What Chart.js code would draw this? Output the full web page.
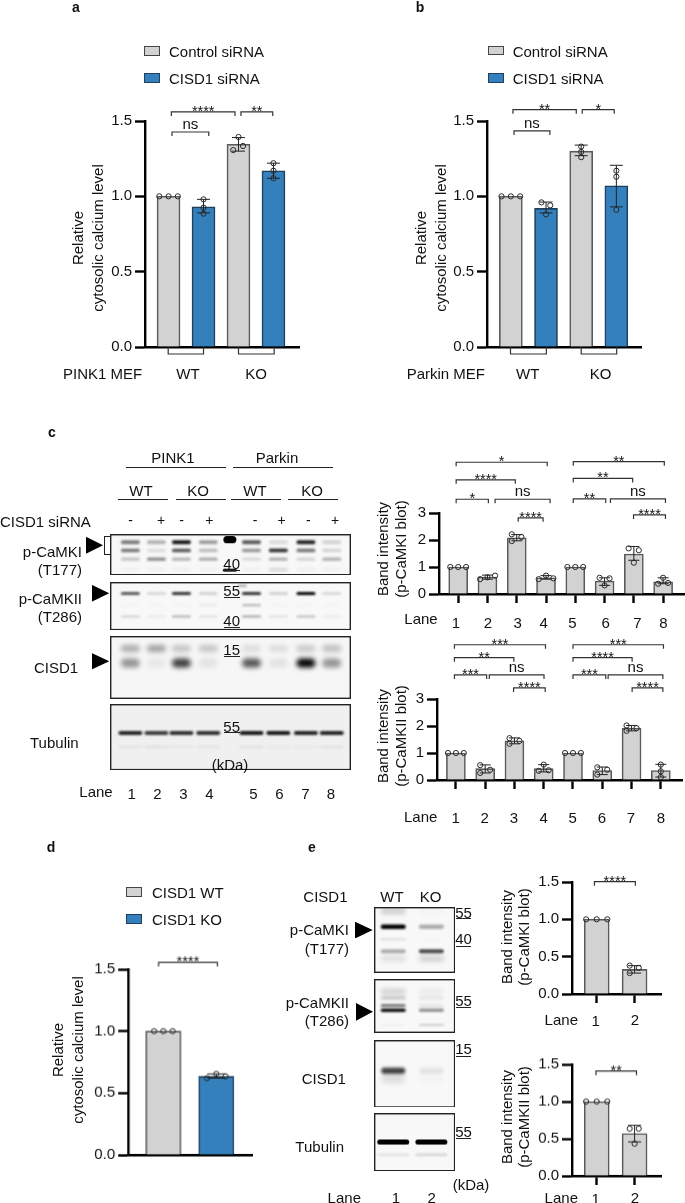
<!DOCTYPE html>
<html>
<head>
<meta charset="utf-8">
<title>CISD1 figure</title>
<script src="https://cdn.jsdelivr.net/npm/chart.js@4"></script>
<style>
  html, body { margin: 0; background: #fff; }
  #page { position: relative; width: 685px; height: 1203px; overflow: hidden; font-family: "Liberation Sans", Arial, sans-serif; color: #111; filter: blur(0.3px); }
  #page canvas { position: absolute; }
  .txt { position: absolute; white-space: nowrap; line-height: 1; }
  .box { position: absolute; box-sizing: border-box; border: 1.5px solid #333; }
  .rule { position: absolute; background: #222; }
  .tri { position: absolute; background: #000; clip-path: polygon(0 0, 100% 50%, 0 100%); }
</style>
</head>
<body>
<div id="page"></div>
<script>
const GREY = '#d2d2d2';
const BLUE = '#3480bd';
const pairFill = [GREY, BLUE, GREY, BLUE];
const pairEdge = ['#5a5a5a', '#1f3f5c', '#5a5a5a', '#1f3f5c'];
const twoFill = [GREY, BLUE];
const twoEdge = ['#5a5a5a', '#1f3f5c'];
const greyFill = Array(8).fill(GREY);
const greyEdge = Array(8).fill('#5a5a5a');

// panel a
const aLanes = [1, 2, 3, 4];
const aMeans = [1, 0.93, 1.345, 1.17];
const aErrLow = [null, 0.89, 1.30, 1.12];
const aErrHigh = [null, 0.98, 1.39, 1.22];
const aPoints = [[0.735, 1], [1, 1], [1.265, 1], [2, 0.98], [2, 0.925], [2, 0.885],
  [3, 1.394], [2.85, 1.307], [3.13, 1.334], [4, 1.22], [4, 1.17], [4, 1.12]];
const aBrackets = [[1.08, 2.9, 1.56, '****'], [3.07, 3.98, 1.56, '**'], [1.1, 2.15, 1.427, 'ns']];
const aGroups = [[0.99, 2.0], [3.0, 4.02]];

// panel b
const bLanes = [1, 2, 3, 4];
const bMeans = [1, 0.92, 1.30, 1.07];
const bErrLow = [null, 0.89, 1.27, 0.93];
const bErrHigh = [null, 0.962, 1.34, 1.206];
const bPoints = [[0.735, 1], [1, 1], [1.265, 1], [1.87, 0.96], [2.12, 0.94], [2, 0.88],
  [3, 1.33], [3, 1.295], [3, 1.26], [4, 1.17], [4, 1.13], [4, 0.91]];
const bBrackets = [[1.06, 2.86, 1.575, '**'], [3.03, 3.94, 1.575, '*'], [1.09, 2.11, 1.434, 'ns']];
const bGroups = [[0.99, 2.01], [3.0, 4.01]];

// panel c charts
const cLanes = [1, 2, 3, 4, 5, 6, 7, 8];
const cTopMeans = [1, 0.63, 2.08, 0.6, 1, 0.48, 1.48, 0.45];
const cTopErrLow = [null, 0.55, 1.97, 0.55, null, 0.32, 1.25, 0.38];
const cTopErrHigh = [null, 0.70, 2.2, 0.68, null, 0.6, 1.76, 0.6];
const cTopPoints = [[0.73, 1], [1, 1], [1.27, 1], [1.75, 0.55], [2, 0.62], [2.26, 0.68],
  [2.83, 2.21], [3.16, 2.11], [2.83, 1.96], [3.75, 0.55], [4, 0.68], [4.25, 0.58],
  [4.73, 1], [5, 1], [5.27, 1], [5.83, 0.6], [6, 0.32], [6.17, 0.58],
  [6.82, 1.69], [7, 1.16], [7.17, 1.62], [8, 0.6], [7.83, 0.38], [8.17, 0.41]];
const cTopBrackets = [[0.93, 4.04, 4.88, '*'], [0.93, 2.95, 4.23, '****'], [0.93, 2.03, 3.51, '*'],
  [2.26, 4.14, 3.51, 'ns'], [3.05, 3.9, 2.82, '****'], [4.93, 8.04, 4.9, '**'],
  [4.93, 6.96, 4.28, '**'], [4.93, 6.04, 3.52, '**'], [6.2, 8.08, 3.52, 'ns'], [6.99, 8.08, 2.93, '****']];

const cLowMeans = [1, 0.42, 1.45, 0.42, 1, 0.35, 1.92, 0.35];
const cLowErrLow = [null, 0.26, 1.34, 0.3, null, 0.2, 1.82, 0.11];
const cLowErrHigh = [null, 0.56, 1.56, 0.57, null, 0.48, 2.02, 0.58];
const cLowPoints = [[0.73, 1], [1, 1], [1.27, 1], [1.83, 0.55], [2.17, 0.38], [1.83, 0.26],
  [2.83, 1.55], [3.17, 1.45], [2.83, 1.34], [4, 0.57], [3.83, 0.34], [4.17, 0.36],
  [4.73, 1], [5, 1], [5.27, 1], [5.83, 0.47], [6.17, 0.38], [5.83, 0.2],
  [6.83, 2.02], [7.17, 1.92], [6.83, 1.82], [8, 0.57], [8, 0.32], [8, 0.11]];
const cLowBrackets = [[0.95, 4.06, 5.01, '***'], [0.95, 2.98, 4.53, '**'], [0.95, 2.05, 3.89, '***'],
  [2.14, 4.01, 3.89, 'ns'], [2.97, 4.05, 3.41, '****'], [5.0, 8.09, 5.01, '***'],
  [5.0, 7.02, 4.53, '****'], [5.0, 6.12, 3.89, '***'], [6.2, 8.07, 3.89, 'ns'], [7.02, 8.07, 3.41, '****']];

// panel d
const dLanes = [1, 2];
const dMeans = [1, 0.635];
const dErrLow = [null, 0.62];
const dErrHigh = [null, 0.655];
const dPoints = [[0.825, 1], [1, 1], [1.175, 1], [1.825, 0.62], [2, 0.655], [2.175, 0.635]];
const dBrackets = [[0.91, 2.02, 1.555, '****']];

// panel e charts
const eLanes = [1, 2];
const eTopMeans = [1, 0.33];
const eTopErrLow = [null, 0.28];
const eTopErrHigh = [null, 0.38];
const eTopPoints = [[0.72, 1], [1, 1], [1.28, 1], [1.87, 0.38], [2.11, 0.35], [1.87, 0.28]];
const eTopBrackets = [[0.94, 2.02, 1.504, '****']];
const eLowMeans = [1, 0.57];
const eLowErrLow = [null, 0.457];
const eLowErrHigh = [null, 0.68];
const eLowPoints = [[0.72, 1], [1, 1], [1.28, 1], [1.87, 0.636], [2.11, 0.636], [2, 0.434]];
const eLowBrackets = [[0.98, 2.05, 1.41, '**']];

// blots: band position (% of blot height) and one darkness value per lane
const cSlots = [1, 2, 2.96, 3.99, 5.65, 6.68, 7.74, 8.73];
const c1Pos = [20, 40, 61, 87];
const c1Levels = [[0.55, 0.3, 1, 0.4, 0.7, 0.12, 0.95, 0.16], [0.6, 0.12, 0.75, 0.28, 0.45, 0.95, 0.6, 0.16],
  [0.22, 0.45, 0.28, 0.32, 0.12, 0.3, 0.14, 0.3], [0.03, 0.04, 0.04, 0.04, 0.04, 0.15, 0.04, 0.04]];
const c2Pos = [24, 48, 72];
const c2Levels = [[0.65, 0.12, 0.8, 0.15, 0.8, 0.15, 1, 0.12], [0.02, 0.02, 0.02, 0.06, 0.25, 0.02, 0.02, 0.02],
  [0.16, 0.07, 0.3, 0.1, 0.35, 0.1, 0.25, 0.06]];
const c3Pos = [20, 43];
const c3Levels = [[0.3, 0.35, 0.2, 0.2, 0.1, 0.1, 0.18, 0.22], [0.4, 0.06, 0.75, 0.08, 0.65, 0.08, 1, 0.4]];
const c4Pos = [44, 65];
const c4Levels = [[0.85, 0.75, 0.8, 0.8, 0.9, 0.9, 0.85, 0.85], [0.07, 0.08, 0.05, 0.06, 0.07, 0.04, 0.04, 0.07]];
const eSlots = [1, 2];
const e1Pos = [6, 30, 49, 67, 78];
const e1Levels = [[0.16, 0.02], [1, 0.3], [0.1, 0.02], [0.3, 0.7], [0.1, 0.16]];
const e2Pos = [23, 35, 49, 58, 85];
const e2Levels = [[0.14, 0.05], [0.18, 0.07], [0.5, 0.08], [0.95, 0.4], [0.04, 0.2]];
const e3Pos = [46, 57];
const e3Levels = [[0.75, 0.08], [0.1, 0.02]];
const e4Pos = [50, 72];
const e4Levels = [[1, 1], [0.1, 0.18]];

const page = document.getElementById('page');

function addText(text, x, y, opts = {}) {
  const el = document.createElement('div');
  el.className = 'txt';
  el.textContent = text;
  el.style.left = x + 'px';
  el.style.top = y + 'px';
  el.style.fontSize = (opts.size || 15) + 'px';
  if (opts.bold) el.style.fontWeight = 'bold';
  const shift = opts.align === 'right' ? '-100%' : opts.align === 'left' ? '0' : '-50%';
  el.style.transform = `translate(${shift}, -50%)` + (opts.rotate ? ' rotate(-90deg)' : '');
  page.appendChild(el);
}

function addRule(x1, x2, y, h = 1.2) {
  const el = document.createElement('div');
  el.className = 'rule';
  el.style.cssText = `left:${x1}px;top:${y}px;width:${x2 - x1}px;height:${h}px`;
  page.appendChild(el);
}

function addTriangle(x, y, w, h) {
  const el = document.createElement('div');
  el.className = 'tri';
  el.style.cssText = `left:${x}px;top:${y}px;width:${w}px;height:${h}px`;
  page.appendChild(el);
}

function addLegendRow(x, y, color, edge, text, textX) {
  const el = document.createElement('div');
  el.className = 'box';
  el.style.cssText = `left:${x}px;top:${y}px;width:15.5px;height:9.5px;background:${color};border-color:${edge}`;
  page.appendChild(el);
  addText(text, textX, y + 5, { align: 'left' });
}

function addCanvas(left, top, width, height) {
  const canvas = document.createElement('canvas');
  canvas.width = width;
  canvas.height = height;
  canvas.style.cssText = `left:${left}px;top:${top}px;width:${width}px;height:${height}px`;
  page.appendChild(canvas);
  return canvas;
}

// error bars and significance brackets, drawn through the chart's scales
function marksPlugin(cfg) {
  return {
    id: 'marks',
    afterDatasetsDraw(chart) {
      const { ctx, scales: { x, y } } = chart;
      ctx.save();
      ctx.strokeStyle = '#222';
      ctx.lineWidth = 1;
      cfg.lanes.forEach((lane, i) => {
        if (cfg.errHigh[i] === null) return;
        const px = x.getPixelForValue(lane);
        const hi = y.getPixelForValue(cfg.errHigh[i]);
        const lo = y.getPixelForValue(cfg.errLow[i]);
        ctx.beginPath();
        ctx.moveTo(px, hi); ctx.lineTo(px, lo);
        ctx.moveTo(px - cfg.cap, hi); ctx.lineTo(px + cfg.cap, hi);
        ctx.moveTo(px - cfg.cap, lo); ctx.lineTo(px + cfg.cap, lo);
        ctx.stroke();
      });
      ctx.strokeStyle = '#333';
      ctx.lineWidth = 1.2;
      ctx.fillStyle = '#111';
      ctx.textAlign = 'center';
      cfg.brackets.forEach(([from, to, level, label]) => {
        const x1 = x.getPixelForValue(from);
        const x2 = x.getPixelForValue(to);
        const py = y.getPixelForValue(level);
        ctx.beginPath();
        ctx.moveTo(x1, py + 4); ctx.lineTo(x1, py); ctx.lineTo(x2, py); ctx.lineTo(x2, py + 4);
        ctx.stroke();
        if (label === 'ns') {
          ctx.font = '15px "Liberation Sans"';
          ctx.fillText(label, (x1 + x2) / 2, py - 3);
        } else {
          ctx.font = '14.5px "Liberation Sans"';
          ctx.fillText(label, (x1 + x2) / 2, py + 4);
        }
      });
      (cfg.groups || []).forEach(([from, to]) => {
        const x1 = x.getPixelForValue(from);
        const x2 = x.getPixelForValue(to);
        const py = y.getPixelForValue(0);
        ctx.beginPath();
        ctx.moveTo(x1, py); ctx.lineTo(x1, py + 7); ctx.lineTo(x2, py + 7); ctx.lineTo(x2, py);
        ctx.stroke();
      });
      ctx.restore();
    }
  };
}

function barPanel(cfg) {
  const L = 34, T = 66, B = 18, R = 4;
  const plotW = cfg.right - cfg.axisX;
  const plotH = cfg.y0 - cfg.yTop;
  const canvas = addCanvas(cfg.axisX - L, cfg.yTop - T, plotW + L + R, plotH + T + B);
  new Chart(canvas, {
    type: 'bar',
    data: {
      datasets: [{
        type: 'scatter',
        data: cfg.points.map(([x, y]) => ({ x, y })),
        pointRadius: cfg.dot || 2.6,
        pointBackgroundColor: 'rgba(255,255,255,0)',
        pointBorderColor: '#2a2a2a',
        pointBorderWidth: 1,
        showLine: false,
        order: 0
      }, {
        data: cfg.lanes.map((lane, i) => ({ x: lane, y: cfg.means[i] })),
        backgroundColor: cfg.fill,
        borderColor: cfg.edge,
        borderWidth: 1.6,
        barThickness: cfg.barW,
        order: 1
      }]
    },
    options: {
      responsive: false,
      animation: false,
      layout: { padding: { top: T, right: R, left: 0, bottom: 0 } },
      plugins: { legend: { display: false }, tooltip: { enabled: false } },
      scales: {
        x: {
          type: 'linear',
          offset: false,
          min: 1 - (cfg.lane1X - cfg.axisX) / cfg.step,
          max: 1 + (cfg.right - cfg.lane1X) / cfg.step,
          afterBuildTicks: s => { s.ticks = cfg.lanes.map(value => ({ value })); },
          afterFit: s => { s.height = B; },
          ticks: { display: false, autoSkip: false },
          grid: { offset: false, drawOnChartArea: false, drawTicks: !!cfg.laneTicks, tickLength: 9, tickWidth: 2.4, tickColor: '#000' },
          border: { width: 2.4, color: '#000' }
        },
        y: {
          min: 0,
          max: cfg.yMax,
          afterBuildTicks: s => { s.ticks = cfg.yTicks.map(value => ({ value })); },
          afterFit: s => { s.width = L; },
          ticks: {
            autoSkip: false,
            color: '#111',
            padding: 3,
            font: { family: '"Liberation Sans"', size: 15 },
            callback: v => v.toFixed(cfg.digits)
          },
          grid: { drawOnChartArea: false, tickLength: 10, tickWidth: 2.4, tickColor: '#000' },
          border: { width: 2.4, color: '#000' }
        }
      }
    },
    plugins: [marksPlugin(cfg)]
  });
}

// one Chart.js scatter per blot; bands are drawn through its scales with a blur
function blotPanel(cfg) {
  const canvas = addCanvas(cfg.x, cfg.y, cfg.w, cfg.h);
  new Chart(canvas, {
    type: 'scatter',
    data: { datasets: [{ data: [], pointRadius: 0 }] },
    options: {
      responsive: false,
      animation: false,
      layout: { padding: 0 },
      plugins: { legend: { display: false }, tooltip: { enabled: false } },
      scales: {
        x: { type: 'linear', display: false, min: cfg.xMin, max: cfg.xMax },
        y: { type: 'linear', display: false, min: 0, max: 100, reverse: true }
      }
    },
    plugins: [{
      id: 'bands',
      beforeDatasetsDraw(chart) {
        const { ctx, scales: { x, y } } = chart;
        ctx.save();
        ctx.fillStyle = cfg.bg || '#f8f8f8';
        ctx.fillRect(0, 0, cfg.w, cfg.h);
        const band = (bx, py, w, h, level, blur) => {
          ctx.filter = `blur(${blur}px)`;
          ctx.fillStyle = `rgba(0,0,0,${level})`;
          ctx.beginPath();
          ctx.roundRect(x.getPixelForValue(bx) - w / 2, y.getPixelForValue(py) - h / 2, w, h, h / 2);
          ctx.fill();
        };
        cfg.pos.forEach((py, r) => {
          cfg.levels[r].forEach((level, i) => {
            band(cfg.slots[i], py, cfg.bandW, cfg.thick[r], level, cfg.blur[r]);
          });
        });
        (cfg.extras || []).forEach(e => band(e[0], e[1], e[2], e[3], e[4], e[5]));
        ctx.filter = 'none';
        ctx.strokeStyle = '#222';
        ctx.lineWidth = 1.4;
        ctx.strokeRect(0.7, 0.7, cfg.w - 1.4, cfg.h - 1.4);
        ctx.restore();
      }
    }]
  });
}

const yTicks15 = [0, 0.5, 1, 1.5];
const yTicks3 = [0, 1, 2, 3];

barPanel({ axisX: 145, right: 300, y0: 346.7, yTop: 120.7, yMax: 1.5, yTicks: yTicks15, digits: 1, lane1X: 168.7, step: 35.2, barW: 23,
  lanes: aLanes, means: aMeans, errLow: aErrLow, errHigh: aErrHigh, points: aPoints, brackets: aBrackets, groups: aGroups, fill: pairFill, edge: pairEdge, cap: 6.5 });
barPanel({ axisX: 487, right: 642, y0: 346.7, yTop: 120.7, yMax: 1.5, yTicks: yTicks15, digits: 1, lane1X: 511, step: 35.4, barW: 23,
  lanes: bLanes, means: bMeans, errLow: bErrLow, errHigh: bErrHigh, points: bPoints, brackets: bBrackets, groups: bGroups, fill: pairFill, edge: pairEdge, cap: 6.5 });
barPanel({ axisX: 438.7, right: 685, y0: 594, yTop: 512.7, yMax: 3, yTicks: yTicks3, digits: 0, lane1X: 458, step: 29.43, barW: 19, laneTicks: true,
  lanes: cLanes, means: cTopMeans, errLow: cTopErrLow, errHigh: cTopErrHigh, points: cTopPoints, brackets: cTopBrackets, fill: greyFill, edge: greyEdge, cap: 5.5 });
barPanel({ axisX: 436.7, right: 683, y0: 780.3, yTop: 699, yMax: 3, yTicks: yTicks3, digits: 0, lane1X: 455.7, step: 29.43, barW: 19, laneTicks: true,
  lanes: cLanes, means: cLowMeans, errLow: cLowErrLow, errHigh: cLowErrHigh, points: cLowPoints, brackets: cLowBrackets, fill: greyFill, edge: greyEdge, cap: 5.5 });
barPanel({ axisX: 128.3, right: 253, y0: 1155, yTop: 969.3, yMax: 1.5, yTicks: yTicks15, digits: 1, lane1X: 163.7, step: 53.3, barW: 35,
  lanes: dLanes, means: dMeans, errLow: dErrLow, errHigh: dErrHigh, points: dPoints, brackets: dBrackets, fill: twoFill, edge: twoEdge, cap: 9 });
barPanel({ axisX: 571.7, right: 661.7, y0: 994.3, yTop: 882, yMax: 1.5, yTicks: yTicks15, digits: 1, lane1X: 596.7, step: 38.3, barW: 25, laneTicks: true,
  lanes: eLanes, means: eTopMeans, errLow: eTopErrLow, errHigh: eTopErrHigh, points: eTopPoints, brackets: eTopBrackets, fill: [GREY, GREY], edge: ['#5a5a5a', '#5a5a5a'], cap: 6.5 });
barPanel({ axisX: 571.7, right: 661.7, y0: 1175.7, yTop: 1064, yMax: 1.5, yTicks: yTicks15, digits: 1, lane1X: 596.7, step: 38.3, barW: 25, laneTicks: true,
  lanes: eLanes, means: eLowMeans, errLow: eLowErrLow, errHigh: eLowErrHigh, points: eLowPoints, brackets: eLowBrackets, fill: [GREY, GREY], edge: ['#5a5a5a', '#5a5a5a'], cap: 6.5 });

const cBlotX = { x: 110.3, w: 241, xMin: 0.218, xMax: 9.47, slots: cSlots, bandW: 19 };
blotPanel({ ...cBlotX, y: 534.3, h: 40.4, pos: c1Pos, levels: c1Levels, thick: [3.4, 3.2, 3, 3], blur: [1.1, 1.1, 1.2, 1.6],
  extras: [[4.82, 14, 13, 7, 1, 0.5], [4.82, 88, 14, 3, 0.9, 0.4]] });
blotPanel({ ...cBlotX, y: 581.7, h: 48.3, pos: c2Pos, levels: c2Levels, thick: [3, 2.2, 2], blur: [1, 1.2, 1],
  extras: [[5.3, 8, 9, 2, 0.35, 0.8]] });
blotPanel({ ...cBlotX, y: 636, h: 63, pos: c3Pos, levels: c3Levels, thick: [7, 9], blur: [2.6, 2.6], bg: '#f6f6f6' });
blotPanel({ ...cBlotX, y: 704, h: 66.3, bandW: 24, pos: c4Pos, levels: c4Levels, thick: [4, 2.2], blur: [0.8, 1.4], bg: '#f0f0f0' });
const eBlotX = { x: 374, w: 81.3, xMin: 0.495, xMax: 2.62, slots: eSlots };
blotPanel({ ...eBlotX, y: 907.3, h: 66, bandW: 25, pos: e1Pos, levels: e1Levels, thick: [7, 4.4, 2.4, 4, 6], blur: [2.2, 0.8, 1.2, 1.3, 2.4] });
blotPanel({ ...eBlotX, y: 979.3, h: 54, bandW: 25, pos: e2Pos, levels: e2Levels, thick: [6, 3.6, 3, 3.6, 1.6], blur: [2, 1.4, 1, 0.9, 1] });
blotPanel({ ...eBlotX, y: 1040, h: 66.7, bandW: 24, pos: e3Pos, levels: e3Levels, thick: [6, 10], blur: [1.5, 2.6] });
blotPanel({ ...eBlotX, y: 1113.3, h: 57.4, bandW: 32, pos: e4Pos, levels: e4Levels, thick: [5, 2], blur: [0.7, 1.1] });

// panel letters
addText('a', 76, 7, { bold: true, size: 14 });
addText('b', 420, 7, { bold: true, size: 14 });
addText('c', 52, 432, { bold: true, size: 14 });
addText('d', 51, 847, { bold: true, size: 14 });
addText('e', 312, 847, { bold: true, size: 14 });

// legends
addLegendRow(144, 46, GREY, '#444', 'Control siRNA', 169);
addLegendRow(144, 73, BLUE, '#1f3f5c', 'CISD1 siRNA', 169);
addLegendRow(488.3, 45.5, GREY, '#444', 'Control siRNA', 512.7);
addLegendRow(488.3, 73, BLUE, '#1f3f5c', 'CISD1 siRNA', 512.7);
addLegendRow(126, 887, GREY, '#444', 'CISD1 WT', 152);
addLegendRow(126, 914, BLUE, '#1f3f5c', 'CISD1 KO', 152);

// axis titles
[[77, 97, 238], [420, 440, 238], [57, 77, 1050]].forEach(([x1, x2, y]) => {
  addText('Relative', x1, y, { rotate: true });
  addText('cytosolic calcium level', x2, y, { rotate: true });
});
[[382, 400, 549, 'p-CaMKI'], [382, 400, 736, 'p-CaMKII'], [505.7, 523, 937, 'p-CaMKI'], [505.7, 523, 1117, 'p-CaMKII']].forEach(([x1, x2, y, name]) => {
  addText('Band intensity', x1, y, { rotate: true });
  addText(`(${name} blot)`, x2, y, { rotate: true });
});

// a, b group labels
addText('PINK1 MEF', 63, 373, { align: 'left' });
addText('WT', 188, 373);
addText('KO', 256, 373);
addText('Parkin MEF', 406.7, 373, { align: 'left' });
addText('WT', 527.7, 373);
addText('KO', 600.7, 373);

// c header
addText('PINK1', 173, 457);
addRule(126, 226, 467);
addText('Parkin', 277, 457);
addRule(233.3, 333.3, 467);
[['WT', 141, 118.3, 168.3], ['KO', 198, 176, 226], ['WT', 255, 231, 281], ['KO', 312, 288.3, 338.3]].forEach(([t, cx, x1, x2]) => {
  addText(t, cx, 490);
  addRule(x1, x2, 499);
});
addText('CISD1 siRNA', 0, 520.7, { align: 'left' });
[['-', 130.7], ['+', 161], ['-', 181.7], ['+', 209.3], ['-', 255], ['+', 281.7], ['-', 308.3], ['+', 335]].forEach(([t, x]) => addText(t, x, 520, { size: 14 }));

// c blot labels
addText('p-CaMKI', 82, 550.7, { align: 'right' });
addText('(T177)', 82, 569, { align: 'right' });
addText('p-CaMKII', 82, 597.7, { align: 'right' });
addText('(T286)', 82, 616, { align: 'right' });
addText('CISD1', 34, 667, { align: 'left' });
addText('Tubulin', 30, 742, { align: 'left' });
addTriangle(86, 536.7, 17, 17);
addTriangle(91.7, 584.7, 17.5, 17);
addTriangle(91.7, 653, 17.5, 16.5);
// bracket next to the first arrow
addRule(104, 110, 535.5);
addRule(104, 110, 553.5);
addRule(104, 105.2, 535.5, 19);

// c ladder
[['40', 562.5, 570], ['55', 590, 597], ['40', 619.5, 626.5], ['15', 649, 656], ['55', 725.5, 732.3]].forEach(([t, cy, ly]) => {
  addText(t, 231.7, cy);
  addRule(224, 239.5, ly);
});
addText('(kDa)', 230, 764);
addText('Lane', 79.3, 790.7, { align: 'left' });
[395, 472, 550, 628, 760, 838, 916, 993].forEach((zx, i) => addText(String(i + 1), zx / 3, 792.7));

// c chart lane labels
addText('Lane', 421, 618);
[288, 384, 473, 551, 637, 737, 832, 910].forEach((zx, i) => addText(String(i + 1), 360 + zx / 3, 621.5));
addText('Lane', 420.7, 815.5);
[287, 374, 462, 551, 638, 726, 813, 903].forEach((zx, i) => addText(String(i + 1), 360 + zx / 3, 816.5));

// e labels
addText('CISD1', 303.3, 896, { align: 'left' });
addText('WT', 392, 896);
addText('KO', 430.7, 896);
addText('p-CaMKI', 349, 929, { align: 'right' });
addText('(T177)', 349, 947.7, { align: 'right' });
addText('p-CaMKII', 349, 1001.7, { align: 'right' });
addText('(T286)', 349, 1020, { align: 'right' });
addText('CISD1', 301.7, 1077.7, { align: 'left' });
addText('Tubulin', 344, 1146, { align: 'right' });
addTriangle(355, 921.7, 17.7, 16.7);
addTriangle(356, 1003, 17, 17.7);
[['55', 911.7, 918], ['40', 938, 945.7], ['55', 1000, 1007], ['15', 1048, 1055.7], ['55', 1130.7, 1138]].forEach(([t, cy, ly]) => {
  addText(t, 463.5, cy);
  addRule(456, 470.5, ly);
});
addText('(kDa)', 471, 1184);
addText('Lane', 344.3, 1196.5);
addText('1', 396, 1196.5);
addText('2', 431.7, 1196.5);
addText('Lane', 561.3, 1018.5);
addText('1', 595.7, 1020);
addText('2', 635, 1018.5);
addText('Lane', 561.3, 1196.5);
addText('1', 595.7, 1198);
addText('2', 635, 1196.5);
</script>
</body>
</html>
